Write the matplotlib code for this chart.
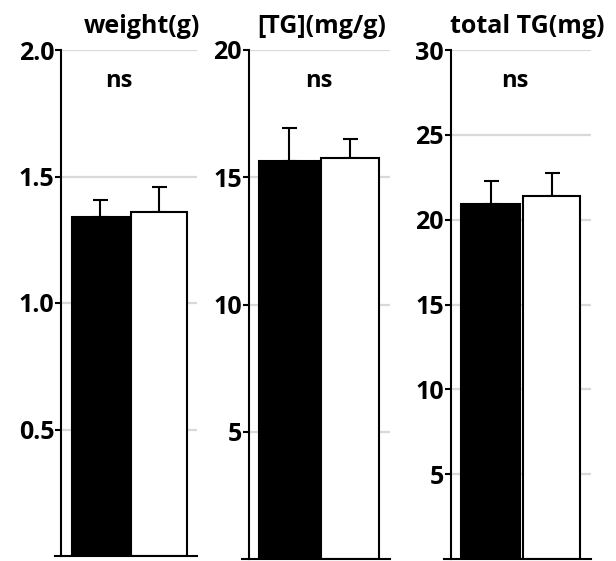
import matplotlib
matplotlib.use("Agg")
import matplotlib.pyplot as plt
import matplotlib.transforms as mtransforms

plt.rcParams['font.family'] = ['Open Sans', 'DejaVu Sans']
plt.rcParams['font.weight'] = 'bold'

# data
titles = ['weight(g)', '[TG](mg/g)', 'total TG(mg)']
means_black = [1.34, 15.63, 20.9]
means_white = [1.36, 15.75, 21.38]
err_black = [0.067, 1.30, 1.37]
err_white = [0.10, 0.75, 1.36]
ymax = [2.0, 20, 30]
yticks = [[0.5, 1.0, 1.5, 2.0], [5, 10, 15, 20], [5, 10, 15, 20, 25, 30]]
ytick_labels = [['0.5', '1.0', '1.5', '2.0'], ['5', '10', '15', '20'],
                ['5', '10', '15', '20', '25', '30']]
sig_labels = ['ns', 'ns', 'ns']

fig = plt.figure(figsize=(6.16, 5.61), dpi=100)
W, H = 616, 561

# axes boxes in pixels (left, right, top, bottom)
boxes = [(55, 197, 50, 556), (242, 390, 50, 559), (444, 591, 50, 559)]
title_x = [142, 322, 527]
ns_x = [0.32, 0.49, 0.40]

spine_x = -0.66
for i in range(3):
    l, r, t, b = boxes[i]
    ax = fig.add_axes([l / W, (H - b) / H, (r - l) / W, (b - t) / H])
    ax.set_xlim(-0.77, 1.65)
    ax.set_ylim(0, ymax[i])

    # gridlines from the y axis to the right edge
    for yv in yticks[i]:
        ax.plot([spine_x, 1.65], [yv, yv], color='#d9d9d9', lw=1.6,
                zorder=0, solid_capstyle='butt')

    ax.bar([0], [means_black[i]], width=0.97, color='black',
           edgecolor='black', lw=1.5, zorder=2)
    ax.bar([1], [means_white[i]], width=0.95, color='white',
           edgecolor='black', lw=1.5, zorder=2)
    ax.errorbar([0, 1], [means_black[i], means_white[i]],
                yerr=[[0, 0], [err_black[i], err_white[i]]],
                fmt='none', ecolor='black', elinewidth=1.5, capsize=5.4,
                capthick=1.5, zorder=1)

    for s in ['top', 'right']:
        ax.spines[s].set_visible(False)
    ax.spines['left'].set_position(('data', spine_x))
    ax.spines['left'].set_linewidth(1.5)
    ax.spines['bottom'].set_linewidth(1.5)
    ax.spines['left'].set_bounds(0, ymax[i])
    ax.set_xticks([])
    ax.set_yticks(yticks[i])
    ax.set_yticklabels(ytick_labels[i], fontsize=18, fontweight='bold')
    ax.tick_params(axis='y', length=4, width=1.5, pad=1)

    trans = mtransforms.blended_transform_factory(ax.transData, ax.transAxes)
    ax.text(ns_x[i], 0.927, sig_labels[i], transform=trans, ha='center',
            va='baseline', fontsize=17, fontweight='bold')

    fig.text(title_x[i] / W, (H - 33) / H, titles[i], ha='center',
             va='baseline', fontsize=18, fontweight='bold')

fig.savefig('out.png', dpi=100)
